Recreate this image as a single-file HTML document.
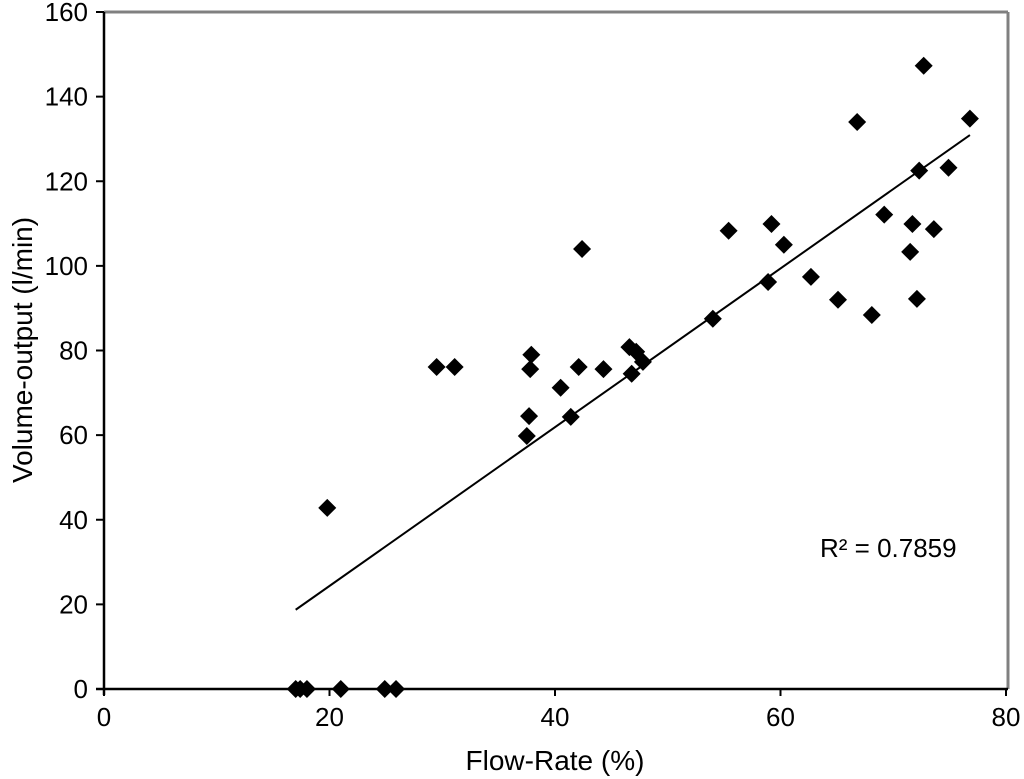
<!DOCTYPE html>
<html><head><meta charset="utf-8"><style>
body{margin:0;background:#fff;}
svg{display:block;font-family:"Liberation Sans",sans-serif;}
</style></head><body>
<svg id="chart" width="1024" height="779">
<g id="axes"></g><g id="marks"></g>
</svg>
<script>
const xVals=[17.0,17.4,18.0,21.0,24.9,25.9,19.8,29.5,31.1,37.5,37.7,37.8,37.9,40.5,41.4,42.1,42.4,44.3,46.6,46.8,47.2,47.8,54.0,55.4,58.9,59.2,60.3,62.7,65.1,66.8,68.1,69.2,71.5,71.7,72.1,72.3,72.7,73.6,74.9,76.8];
const yVals=[0,0,0,0,0,0,42.8,76.1,76.1,59.8,64.5,75.6,79.0,71.2,64.3,76.1,104.0,75.6,80.8,74.5,79.7,77.3,87.5,108.3,96.2,109.9,105.0,97.4,92.0,134.0,88.4,112.1,103.3,109.9,92.2,122.5,147.3,108.7,123.2,134.8];
const xTicks=[0,20,40,60,80];
const yTicks=[0,20,40,60,80,100,120,140,160];
const r2Label="R² = 0.7859";
const NS="http://www.w3.org/2000/svg";
const X0=104,X1=1006,Y0=689,Y1=12;
const sx=v=>X0+(v-0)/80*(X1-X0);
const sy=v=>Y0-(v-0)/160*(Y0-Y1);
const axes=document.getElementById('axes'),marks=document.getElementById('marks');
function mk(tag,attrs,parent){const e=document.createElementNS(NS,tag);for(const k in attrs)e.setAttribute(k,attrs[k]);parent.appendChild(e);return e;}
let e;
e=mk('line',{x1:X0,y1:Y1,x2:X1+2,y2:Y1,stroke:'#808080','stroke-width':3},axes);


e=mk('line',{x1:X1+2,y1:Y1,x2:X1+2,y2:Y0,stroke:'#808080','stroke-width':3},axes);


e=mk('line',{x1:X0,y1:Y1,x2:X0,y2:Y0+6,stroke:'#000','stroke-width':2.5},axes);


e=mk('line',{x1:X0-8,y1:Y0,x2:X1+2,y2:Y0,stroke:'#000','stroke-width':2.5},axes);


xTicks.forEach(t=>{
 e=mk('line',{x1:sx(t),y1:Y0,x2:sx(t),y2:Y0+7,stroke:'#000','stroke-width':2},axes);
 
 
 e=mk('text',{x:sx(t),y:Y0+37,'text-anchor':'middle','font-size':26},axes);
 e.textContent=t;
 
 
});
yTicks.forEach(t=>{
 e=mk('line',{x1:X0-8,y1:sy(t),x2:X0,y2:sy(t),stroke:'#000','stroke-width':2},axes);
 
 
 e=mk('text',{x:X0-16,y:sy(t)+9,'text-anchor':'end','font-size':26},axes);
 e.textContent=t;
 
 
});
e=mk('text',{x:555,y:770,'text-anchor':'middle','font-size':28},axes);
e.textContent='Flow-Rate (%)';


e=mk('text',{x:0,y:0,'text-anchor':'middle','font-size':28,transform:'translate(32,350) rotate(-90)'},axes);
e.textContent='Volume-output  (l/min)';


// trendline (least squares)
const n=xVals.length;let mx=0,my=0;for(let i=0;i<n;i++){mx+=xVals[i];my+=yVals[i];}mx/=n;my/=n;
let sxy=0,sxx=0;for(let i=0;i<n;i++){sxy+=(xVals[i]-mx)*(yVals[i]-my);sxx+=(xVals[i]-mx)**2;}
const slope=sxy/sxx,icpt=my-slope*mx;
const xmin=Math.min(...xVals),xmax=Math.max(...xVals);
e=mk('line',{x1:sx(xmin),y1:sy(icpt+slope*xmin),x2:sx(xmax),y2:sy(icpt+slope*xmax),stroke:'#000','stroke-width':2},marks);


for(let i=0;i<n;i++){
 const cx=sx(xVals[i]),cy=sy(yVals[i]),r=9;
 e=mk('polygon',{points:`${cx},${cy-r} ${cx+r},${cy} ${cx},${cy+r} ${cx-r},${cy}`,fill:'#000'},marks);
 
 
}
e=mk('text',{x:820,y:557,'font-size':26},axes);
e.textContent=r2Label;


</script>
</body></html>
